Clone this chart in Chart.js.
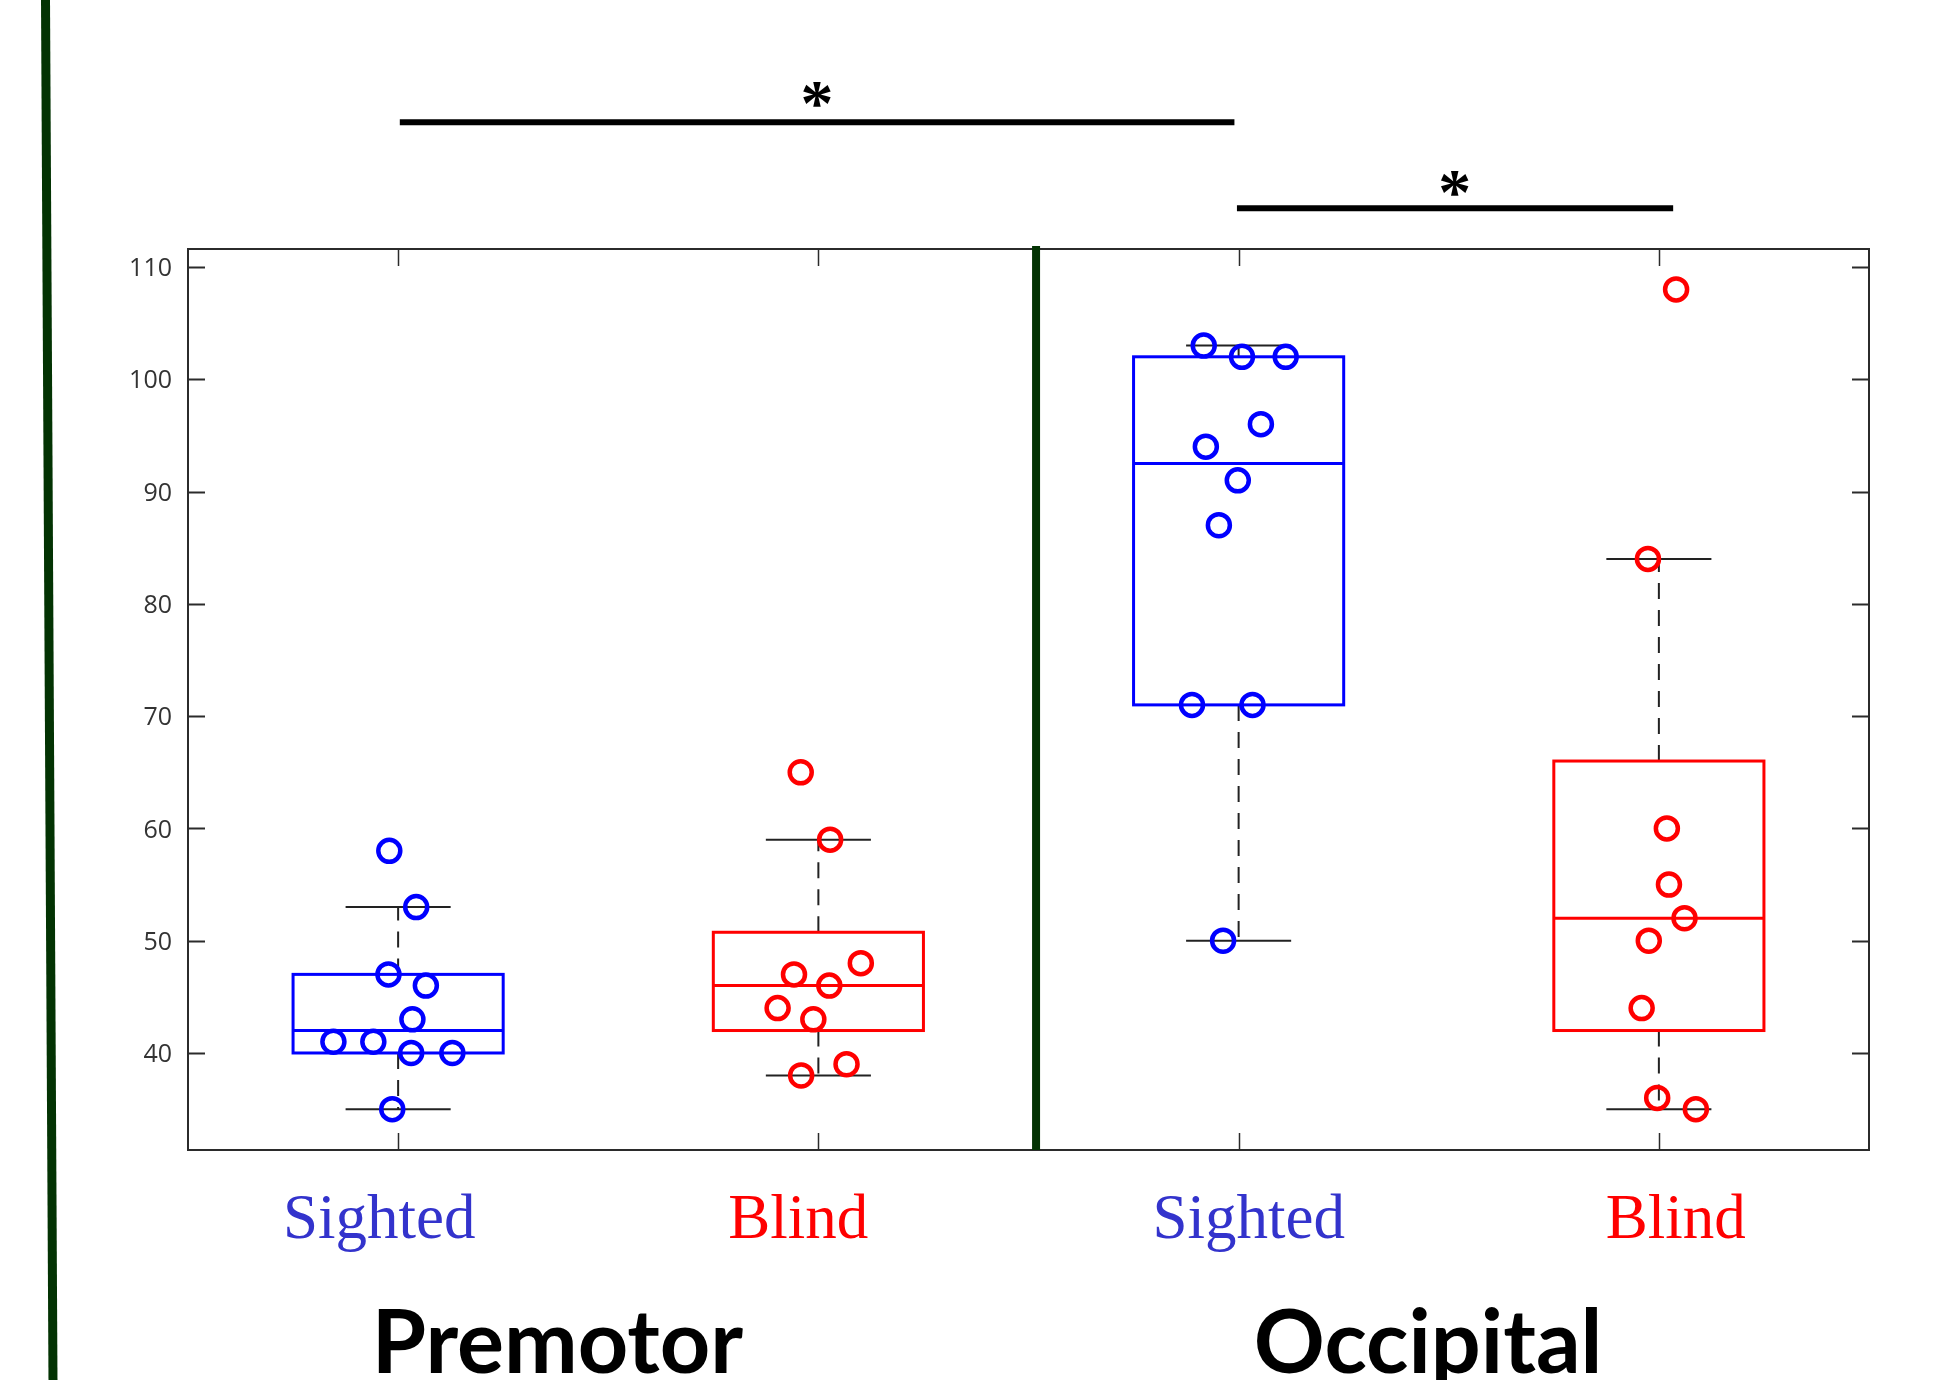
<!DOCTYPE html>
<html>
<head>
<meta charset="utf-8">
<script src="https://cdn.jsdelivr.net/npm/chart.js@4.4.1/dist/chart.umd.min.js"></script>
<style>
  html, body { margin: 0; padding: 0; background: #ffffff; overflow: hidden; }
  #wrap { width: 1935px; height: 1380px; position: relative; }
</style>
</head>
<body>
<div id="wrap"><canvas id="c" width="1935" height="1380"></canvas></div>
<script>
// ---- data ----
const groupNames = ['Sighted', 'Blind', 'Sighted', 'Blind'];
const regionNames = ['Premotor', 'Occipital'];
const yTickValues = [40, 50, 60, 70, 80, 90, 100, 110];

const premotorSighted  = [58, 53, 47, 46, 43, 41, 41, 40, 40, 35];
const premotorSightedX = [0.979, 1.043, 0.977, 1.066, 1.034, 0.846, 0.941, 1.031, 1.129, 0.986];

const premotorBlind  = [65, 59, 48, 47, 46, 44, 43, 39, 38];
const premotorBlindX = [1.958, 2.028, 2.101, 1.942, 2.026, 1.903, 1.988, 2.067, 1.959];

const occipitalSighted  = [103, 102, 102, 96, 94, 91, 87, 71, 71, 50];
const occipitalSightedX = [2.917, 3.008, 3.112, 3.053, 2.922, 2.998, 2.953, 2.889, 3.033, 2.963];

const occipitalBlind  = [108, 84, 60, 55, 52, 50, 44, 36, 35];
const occipitalBlindX = [4.041, 3.974, 4.019, 4.024, 4.061, 3.976, 3.959, 3.996, 4.088];

// significance brackets: [from, to] in group positions
const sigPairs = [[1.004, 2.990], [2.996, 4.034]];

// ---- styles ----
const BLUE = '#0000ff', RED = '#ff0000', GREEN = '#033303', AXIS = '#2b2b2b';
const LABEL_BLUE = '#3333cc';

const groups = [
  { vals: premotorSighted,  xs: premotorSightedX,  pos: 1, color: BLUE },
  { vals: premotorBlind,    xs: premotorBlindX,    pos: 2, color: RED },
  { vals: occipitalSighted, xs: occipitalSightedX, pos: 3, color: BLUE },
  { vals: occipitalBlind,   xs: occipitalBlindX,   pos: 4, color: RED }
];

// percentile as in MATLAB's prctile (midpoint interpolation)
function quantile(sorted, p) {
  const n = sorted.length;
  const i = n * p + 0.5;
  if (i <= 1) return sorted[0];
  if (i >= n) return sorted[n - 1];
  const lo = Math.floor(i);
  return sorted[lo - 1] + (i - lo) * (sorted[lo] - sorted[lo - 1]);
}
function boxStats(vals) {
  const s = [...vals].sort((a, b) => a - b);
  const q1 = quantile(s, 0.25), med = quantile(s, 0.5), q3 = quantile(s, 0.75);
  const iqr = q3 - q1;
  const lo = s.find(v => v >= q1 - 1.5 * iqr);
  const hi = [...s].reverse().find(v => v <= q3 + 1.5 * iqr);
  return { q1, med, q3, lo, hi };
}

const layoutCfg = {
  boxHalf: 0.25, capHalf: 0.125,
  divider: 2.518,
  catLabelX: [0.955, 1.952, 3.024, 4.040], catLabelDrop: 88,
  regionLabelX: [1.379, 3.451], regionLabelDrop: 223,
  sigY: [122.89, 115.22], starPos: [[1.997, 125.4], [3.514, 117.39]]
};

function line(ctx, x1, y1, x2, y2) {
  ctx.beginPath(); ctx.moveTo(x1, y1); ctx.lineTo(x2, y2); ctx.stroke();
}

const boxPlugin = {
  id: 'boxes',
  beforeDatasetsDraw(chart) {
    const { ctx, chartArea: a, scales: { x, y } } = chart;
    ctx.save();
    // frame
    ctx.strokeStyle = AXIS; ctx.lineWidth = 2;
    ctx.strokeRect(a.left, a.top, a.right - a.left, a.bottom - a.top);
    // y ticks on both sides, pointing inward
    ctx.lineWidth = 2;
    yTickValues.forEach(v => {
      const py = Math.round(y.getPixelForValue(v)) + 0.5;
      line(ctx, a.left, py, a.left + 17, py);
      line(ctx, a.right - 17, py, a.right, py);
    });
    // x ticks top and bottom
    ctx.lineWidth = 1.5;
    groups.forEach(g => {
      const px = Math.round(x.getPixelForValue(g.pos)) + 0.5;
      line(ctx, px, a.top, px, a.top + 17);
      line(ctx, px, a.bottom - 17, px, a.bottom);
    });
    // boxes and whiskers
    groups.forEach(g => {
      const st = boxStats(g.vals);
      const cx = x.getPixelForValue(g.pos);
      const bl = x.getPixelForValue(g.pos - layoutCfg.boxHalf);
      const br = x.getPixelForValue(g.pos + layoutCfg.boxHalf);
      const cl = x.getPixelForValue(g.pos - layoutCfg.capHalf);
      const cr = x.getPixelForValue(g.pos + layoutCfg.capHalf);
      const yq1 = y.getPixelForValue(st.q1), yq3 = y.getPixelForValue(st.q3);
      const ym = y.getPixelForValue(st.med);
      const ylo = y.getPixelForValue(st.lo), yhi = y.getPixelForValue(st.hi);
      // whiskers (dashed)
      ctx.strokeStyle = '#222'; ctx.lineWidth = 2; ctx.setLineDash([16, 11]);
      line(ctx, cx, yq3, cx, yhi);
      line(ctx, cx, yq1, cx, ylo);
      ctx.setLineDash([]);
      // caps
      line(ctx, cl, yhi, cr, yhi);
      line(ctx, cl, ylo, cr, ylo);
      // box
      ctx.strokeStyle = g.color; ctx.lineWidth = 3;
      ctx.strokeRect(bl, yq3, br - bl, yq1 - yq3);
      line(ctx, bl, ym, br, ym);
    });
    // divider between regions
    ctx.strokeStyle = GREEN; ctx.lineWidth = 8;
    const dx = x.getPixelForValue(layoutCfg.divider);
    line(ctx, dx, a.top - 3, dx, a.bottom);
    ctx.restore();
  },
  afterDatasetsDraw(chart) {
    const { ctx, chartArea: a, scales: { x, y } } = chart;
    ctx.save();
    // significance brackets
    ctx.strokeStyle = '#000'; ctx.lineWidth = 6; ctx.lineCap = 'butt';
    sigPairs.forEach((p, i) => {
      const py = y.getPixelForValue(layoutCfg.sigY[i]);
      line(ctx, x.getPixelForValue(p[0]), py, x.getPixelForValue(p[1]), py);
    });
    // asterisks sized to a 25px tall glyph, centred on their anchor
    ctx.fillStyle = '#000';
    ctx.font = 'bold 100px "Liberation Serif"';
    const m = ctx.measureText('*');
    const h100 = m.actualBoundingBoxAscent + m.actualBoundingBoxDescent;
    const size = 100 * 25 / h100;
    ctx.font = `bold ${size}px "Liberation Serif"`;
    const m2 = ctx.measureText('*');
    layoutCfg.starPos.forEach(s => {
      const cx = x.getPixelForValue(s[0]);
      const cy = y.getPixelForValue(s[1]);
      const w = m2.actualBoundingBoxLeft + m2.actualBoundingBoxRight;
      const hh = m2.actualBoundingBoxAscent + m2.actualBoundingBoxDescent;
      ctx.textAlign = 'left'; ctx.textBaseline = 'alphabetic';
      ctx.fillText('*', cx - w / 2 + m2.actualBoundingBoxLeft, cy + hh / 2 - m2.actualBoundingBoxDescent);
    });
    // group labels
    ctx.textAlign = 'center'; ctx.textBaseline = 'alphabetic';
    ctx.font = '63px "Liberation Serif"';
    groupNames.forEach((name, i) => {
      ctx.fillStyle = name === 'Sighted' ? LABEL_BLUE : RED;
      ctx.fillText(name, x.getPixelForValue(layoutCfg.catLabelX[i]), a.bottom + layoutCfg.catLabelDrop);
    });
    // region labels
    ctx.fillStyle = '#000';
    ctx.font = 'bold 88px Lato';
    regionNames.forEach((name, i) => {
      ctx.fillText(name, x.getPixelForValue(layoutCfg.regionLabelX[i]), a.bottom + layoutCfg.regionLabelDrop);
    });
    // green rule along the left edge of the figure
    ctx.strokeStyle = GREEN; ctx.lineWidth = 9;
    line(ctx, 45.5, 0, 53, chart.height);
    ctx.restore();
  }
};

new Chart(document.getElementById('c').getContext('2d'), {
  type: 'scatter',
  data: {
    datasets: groups.map(g => ({
      data: g.vals.map((v, i) => ({ x: g.xs[i], y: v })),
      borderColor: g.color,
      backgroundColor: 'rgba(0,0,0,0)',
      pointRadius: 11,
      pointHoverRadius: 11,
      pointBorderWidth: 4.5,
      pointHoverBorderWidth: 4.5
    }))
  },
  options: {
    responsive: false,
    animation: false,
    events: [],
    layout: { padding: { left: 0, top: 249, right: 66, bottom: 230 } },
    plugins: { legend: { display: false }, tooltip: { enabled: false } },
    scales: {
      x: { type: 'linear', min: 0.5, max: 4.5, display: false },
      y: {
        type: 'linear', min: 31.36, max: 111.6,
        afterFit(s) { s.width = 188; },
        afterBuildTicks(s) { s.ticks = yTickValues.map(v => ({ value: v })); },
        grid: { display: false, drawTicks: false },
        border: { display: false },
        ticks: { padding: 16, labelOffset: 2, color: '#333333', font: { family: '"Open Sans"', size: 25 } }
      }
    }
  },
  plugins: [boxPlugin]
});
</script>
</body>
</html>
